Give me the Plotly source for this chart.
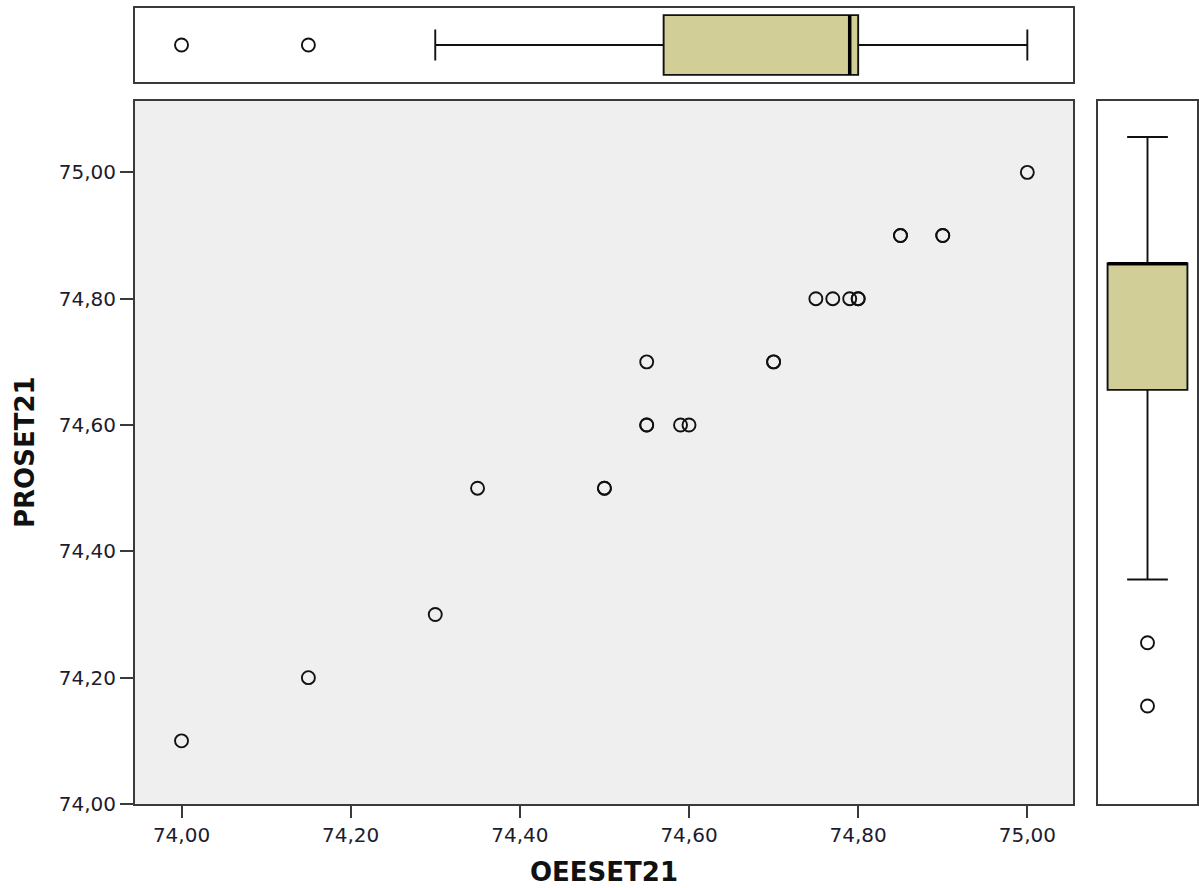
import plotly.graph_objects as go

# ---- data ----
oeeset21 = [74.00, 74.15, 74.30, 74.35, 74.50, 74.50, 74.55, 74.55, 74.55,
            74.59, 74.60, 74.70, 74.70, 74.75, 74.77, 74.79, 74.80, 74.80,
            74.85, 74.85, 74.90, 74.90, 75.00]
proset21 = [74.10, 74.20, 74.30, 74.50, 74.50, 74.50, 74.70, 74.60, 74.60,
            74.60, 74.60, 74.70, 74.70, 74.80, 74.80, 74.80, 74.80, 74.80,
            74.90, 74.90, 74.90, 74.90, 75.00]

# box-plot summaries
x_box = dict(lowerfence=74.30, q1=74.57, median=74.79, q3=74.80, upperfence=75.00)
x_outliers = [74.00, 74.15]
y_box = dict(lowerfence=74.30, q1=74.60, median=74.80, q3=74.80, upperfence=75.00)
y_outliers = [74.20, 74.10]

tick_vals = [74.00, 74.20, 74.40, 74.60, 74.80, 75.00]
x_title = "OEESET21"
y_title = "PROSET21"

# ---- style ----
W, H = 1199, 888
BOX_FILL = "#D2CE97"
FRAME = "#3a3a3a"
FONT = "DejaVu Sans"

def px_x(p):
    return p / W

def px_y(p):
    return (H - p) / H

main_x_dom = [px_x(135), px_x(1073)]
main_y_dom = [px_y(804), px_y(101)]
top_y_dom = [px_y(82), px_y(8)]
right_x_dom = [px_x(1098), px_x(1197)]

x_range = [73.945, 75.054]
y_range = [74.0, 75.113]
right_range = [73.945, 75.057]

marker_style = dict(symbol="circle-open", size=13, color="#111111",
                    line=dict(width=1.9, color="#111111"))

fig = go.Figure()

# main scatter
fig.add_trace(go.Scatter(
    x=oeeset21, y=proset21, mode="markers", marker=marker_style,
    xaxis="x", yaxis="y", showlegend=False, hoverinfo="x+y"))

# top marginal box (horizontal)
fig.add_trace(go.Box(
    orientation="h", y=[0],
    q1=[x_box["q1"]], median=[x_box["median"]], q3=[x_box["q3"]],
    lowerfence=[x_box["lowerfence"]], upperfence=[x_box["upperfence"]],
    width=1.0, whiskerwidth=0.52, boxpoints=False,
    fillcolor=BOX_FILL, line=dict(color="#111111", width=1.9),
    xaxis="x2", yaxis="y2", showlegend=False))
fig.add_trace(go.Scatter(
    x=[x_box["median"], x_box["median"]], y=[-0.5, 0.5], mode="lines",
    line=dict(color="#000000", width=3.5),
    xaxis="x2", yaxis="y2", showlegend=False, hoverinfo="skip"))
fig.add_trace(go.Scatter(
    x=x_outliers, y=[0] * len(x_outliers), mode="markers", marker=marker_style,
    xaxis="x2", yaxis="y2", showlegend=False))

# right marginal box (vertical)
fig.add_trace(go.Box(
    x=[0],
    q1=[y_box["q1"]], median=[y_box["median"]], q3=[y_box["q3"]],
    lowerfence=[y_box["lowerfence"]], upperfence=[y_box["upperfence"]],
    width=1.0, whiskerwidth=0.51, boxpoints=False,
    fillcolor=BOX_FILL, line=dict(color="#111111", width=1.9),
    xaxis="x3", yaxis="y3", showlegend=False))
fig.add_trace(go.Scatter(
    x=[-0.5, 0.5], y=[y_box["median"], y_box["median"]], mode="lines",
    line=dict(color="#000000", width=3.0),
    xaxis="x3", yaxis="y3", showlegend=False, hoverinfo="skip"))
fig.add_trace(go.Scatter(
    x=[0] * len(y_outliers), y=y_outliers, mode="markers", marker=marker_style,
    xaxis="x3", yaxis="y3", showlegend=False))

frame = dict(showline=True, linecolor=FRAME, linewidth=2, mirror=True,
             showgrid=False, zeroline=False, automargin=False)
tickfont = dict(family=FONT, size=20, color="#1c1c2e")

fig.update_layout(
    width=W, height=H,
    autosize=False,
    margin=dict(l=0, r=0, t=0, b=0, pad=0, autoexpand=False),
    paper_bgcolor="white",
    plot_bgcolor="white",
    separators=",.",
    font=dict(family=FONT),
    xaxis=dict(domain=main_x_dom, range=x_range, anchor="y",
               tickvals=tick_vals, tickformat=".2f",
               ticks="outside", ticklen=12, tickwidth=2, tickcolor=FRAME,
               tickfont=tickfont, **frame),
    yaxis=dict(domain=main_y_dom, range=y_range, anchor="x",
               tickvals=tick_vals, tickformat=".2f",
               ticks="outside", ticklen=13, tickwidth=2, tickcolor=FRAME,
               tickfont=tickfont, **frame),
    xaxis2=dict(domain=main_x_dom, range=x_range, anchor="y2",
                showticklabels=False, ticks="", **frame),
    yaxis2=dict(domain=top_y_dom, range=[-0.62, 0.62], anchor="x2",
                showticklabels=False, ticks="", **frame),
    xaxis3=dict(domain=right_x_dom, range=[-0.62, 0.62], anchor="y3",
                showticklabels=False, ticks="", **frame),
    yaxis3=dict(domain=main_y_dom, range=right_range, anchor="x3",
                showticklabels=False, ticks="", **frame),
    shapes=[dict(type="rect", xref="x domain", yref="y domain",
                 x0=0, x1=1, y0=0, y1=1, fillcolor="#EFEFEF",
                 line=dict(width=0), layer="below")],
    annotations=[
        dict(text="<b>" + x_title + "</b>", xref="paper", yref="paper",
             x=px_x(604), y=px_y(872), xanchor="center", yanchor="middle",
             showarrow=False, font=dict(family=FONT, size=26, color="#111111")),
        dict(text="<b>" + y_title + "</b>", xref="paper", yref="paper",
             x=px_x(25), y=px_y(452), xanchor="center", yanchor="middle",
             textangle=-90, showarrow=False,
             font=dict(family=FONT, size=26, color="#111111")),
    ],
)

fig.write_html("out.html")
